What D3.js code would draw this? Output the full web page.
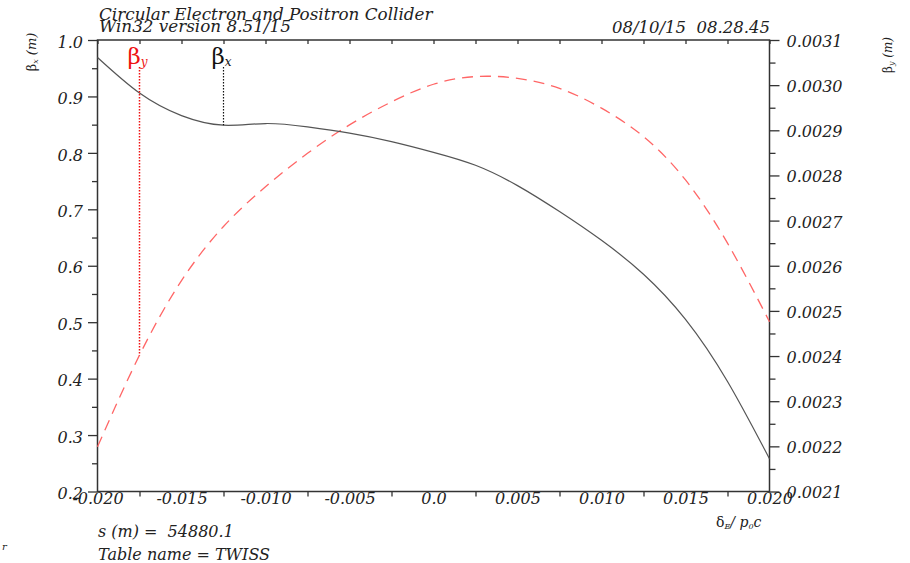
<!DOCTYPE html>
<html lang="en">
<head>
<meta charset="utf-8">
<title>Circular Electron and Positron Collider - Twiss</title>
<script src="https://d3js.org/d3.v7.min.js"></script>
<style>
    body { margin: 0; background: #fff; }
    svg text { font-family: 'DejaVu Serif', 'Liberation Serif', serif; font-style: italic; fill: #222; }
</style>
</head>
<body>
<div id="chart"></div>
<script>
/* global d3 */

// momentum deviation dE/p0c
var deltaE = [-0.020, -0.0175, -0.015, -0.0125, -0.010, -0.0075, -0.005, -0.0025, 0.0,
              0.0025, 0.005, 0.0075, 0.010, 0.0125, 0.015, 0.0175, 0.020];
// beta_x (m), left axis
var betaX = [0.969, 0.906, 0.866, 0.849, 0.852, 0.846, 0.835, 0.820, 0.801,
             0.778, 0.742, 0.696, 0.645, 0.585, 0.505, 0.395, 0.258];
// beta_y (m), right axis
var betaY = [0.002199, 0.002402, 0.002567, 0.002687, 0.002775, 0.002849, 0.002912, 0.002963, 0.003002,
             0.003019, 0.003015, 0.002993, 0.002949, 0.002886, 0.002790, 0.002650, 0.002476];

var xTicks = [-0.020, -0.015, -0.010, -0.005, 0.0, 0.005, 0.010, 0.015, 0.020];
var xTickLabels = ["-0.020", "-0.015", "-0.010", "-0.005", "0.0", "0.005", "0.010", "0.015", "0.020"];
var leftTicks = [0.2, 0.3, 0.4, 0.5, 0.6, 0.7, 0.8, 0.9, 1.0];
var rightTicks = [0.0021, 0.0022, 0.0023, 0.0024, 0.0025, 0.0026, 0.0027, 0.0028, 0.0029, 0.0030, 0.0031];

var width = 910, height = 563;
var plotL = 97.5, plotR = 769.5, plotT = 40, plotB = 491.5;

var svg = d3.select('#chart').append('svg')
    .attr('width', width)
    .attr('height', height);

var x = d3.scaleLinear().domain([-0.020, 0.020]).range([plotL, plotR]);
var yL = d3.scaleLinear().domain([0.2, 1.0]).range([plotB, plotT]);
var yR = d3.scaleLinear().domain([0.0021, 0.0031]).range([plotB, plotT]);

function halfSteps(lo, hi, step) {
    var out = [];
    for (var i = 0; lo + i * step <= hi + 1e-12; i++) out.push(+(lo + i * step).toFixed(6));
    return out;
}

var axisColor = '#333';

// minor ticks first (no labels)
svg.append('g')
    .attr('transform', 'translate(' + plotL + ',0)')
    .call(d3.axisLeft(yL).tickValues(halfSteps(0.25, 0.95, 0.1)).tickSize(5.5).tickFormat(''));
svg.append('g')
    .attr('transform', 'translate(' + plotR + ',0)')
    .call(d3.axisRight(yR).tickValues(halfSteps(0.00215, 0.00305, 0.0001)).tickSize(6).tickFormat(''));
svg.append('g')
    .attr('transform', 'translate(0,' + plotB + ')')
    .call(d3.axisBottom(x).tickValues(halfSteps(-0.0175, 0.0175, 0.005)).tickSize(5).tickFormat(''));

// major ticks with labels
var gL = svg.append('g')
    .attr('transform', 'translate(' + plotL + ',0)')
    .call(d3.axisLeft(yL).tickValues(leftTicks).tickSize(9.5).tickPadding(5).tickFormat(d3.format('.1f')));
gL.selectAll('text').attr('dy', '0.45em');

var gR = svg.append('g')
    .attr('transform', 'translate(' + plotR + ',0)')
    .call(d3.axisRight(yR).tickValues(rightTicks).tickSize(10).tickPadding(7).tickFormat(d3.format('.4f')));
gR.selectAll('text').attr('dy', '0.4em');

var gB = svg.append('g')
    .attr('transform', 'translate(0,' + plotB + ')')
    .call(d3.axisBottom(x).tickValues(xTicks).tickSize(0).tickPadding(4)
        .tickFormat(function(d, i) { return xTickLabels[i]; }));
gB.selectAll('text').attr('dy', '0.55em');

// top axis ticks pointing inward
svg.append('g')
    .attr('transform', 'translate(0,' + plotT + ')')
    .call(d3.axisBottom(x).tickValues(halfSteps(-0.020, 0.020, 0.0025)).tickSize(4).tickFormat(''));

svg.selectAll('.domain').remove();
svg.selectAll('.tick line').attr('stroke', axisColor).attr('stroke-width', 1.3);
svg.selectAll('.tick text').attr('font-size', 16).attr('fill', '#222')
    .style('font-family', "'DejaVu Serif', serif").style('font-style', 'italic');

// frame
svg.append('rect')
    .attr('x', plotL).attr('y', plotT)
    .attr('width', plotR - plotL).attr('height', plotB - plotT)
    .attr('fill', 'none').attr('stroke', axisColor).attr('stroke-width', 1.5);

var rows = deltaE.map(function(d, i) { return {d: d, bx: betaX[i], by: betaY[i]}; });

var lineX = d3.line().curve(d3.curveNatural)
    .x(function(r) { return x(r.d); }).y(function(r) { return yL(r.bx); });
var lineY = d3.line().curve(d3.curveNatural)
    .x(function(r) { return x(r.d); }).y(function(r) { return yR(r.by); });

svg.append('path').datum(rows)
    .attr('d', lineY)
    .attr('fill', 'none').attr('stroke', '#ff6666').attr('stroke-width', 1.3)
    .attr('stroke-dasharray', '11,7');

svg.append('path').datum(rows)
    .attr('d', lineX)
    .attr('fill', 'none').attr('stroke', '#555').attr('stroke-width', 1.2);

// legend markers: dotted drop lines to each curve
var iy = 1, ix = 3;
svg.append('line')
    .attr('x1', x(deltaE[iy])).attr('x2', x(deltaE[iy]))
    .attr('y1', 67).attr('y2', yR(betaY[iy]))
    .attr('stroke', '#ee1111').attr('stroke-width', 1.5).attr('stroke-dasharray', '1.5,1.5');
svg.append('line')
    .attr('x1', x(deltaE[ix])).attr('x2', x(deltaE[ix]))
    .attr('y1', 67).attr('y2', yL(betaX[ix]))
    .attr('stroke', '#111').attr('stroke-width', 1.2).attr('stroke-dasharray', '1.5,1.5');

var ly = svg.append('text')
    .attr('x', x(deltaE[iy]) - 12).attr('y', 64)
    .style('font-style', 'normal').style('fill', '#ee1111');
ly.append('tspan').attr('font-size', 23).text('β');
ly.append('tspan').attr('font-size', 12).attr('dy', 2).style('font-style', 'italic').text('y');

var lx = svg.append('text')
    .attr('x', x(deltaE[ix]) - 12).attr('y', 64)
    .style('font-style', 'normal').style('fill', '#111');
lx.append('tspan').attr('font-size', 23).text('β');
lx.append('tspan').attr('font-size', 12).attr('dy', 2).style('font-style', 'italic').text('x');

// header texts
svg.append('text').attr('x', 99).attr('y', 20).attr('font-size', 16.8)
    .text('Circular Electron and Positron Collider');
svg.append('text').attr('x', 99).attr('y', 32).attr('font-size', 16.8)
    .text('Win32 version 8.51/15');
svg.append('text').attr('x', 770).attr('y', 33).attr('font-size', 16.5)
    .attr('text-anchor', 'end').attr('xml:space', 'preserve')
    .text('08/10/15  08.28.45');

// axis titles
var tl = svg.append('text')
    .attr('transform', 'translate(36,52) rotate(-90)')
    .attr('text-anchor', 'middle').attr('font-size', 13).style('font-style', 'normal');
tl.append('tspan').text('β');
tl.append('tspan').attr('font-size', 8).attr('dy', 2).style('font-style', 'italic').text('x');
tl.append('tspan').attr('dy', -2).style('font-style', 'italic').text(' (m)');

var tr = svg.append('text')
    .attr('transform', 'translate(892,55) rotate(-90)')
    .attr('text-anchor', 'middle').attr('font-size', 12).style('font-style', 'normal');
tr.append('tspan').text('β');
tr.append('tspan').attr('font-size', 8).attr('dy', 2).style('font-style', 'italic').text('y');
tr.append('tspan').attr('dy', -2).style('font-style', 'italic').text(' (m)');

var tx = svg.append('text')
    .attr('x', 716).attr('y', 527).attr('font-size', 14).style('font-style', 'normal');
tx.append('tspan').text('δ');
tx.append('tspan').attr('font-size', 8).attr('dy', 2).style('font-style', 'italic').text('E');
tx.append('tspan').attr('dy', -2).style('font-style', 'italic').text('/ p');
tx.append('tspan').attr('font-size', 8).attr('dy', 2).style('font-style', 'italic').text('0');
tx.append('tspan').attr('dy', -2).style('font-style', 'italic').text('c');

// footer
svg.append('text').attr('x', 98).attr('y', 537).attr('font-size', 16)
    .attr('xml:space', 'preserve').text('s (m) =  54880.1');
svg.append('text').attr('x', 98).attr('y', 560).attr('font-size', 16)
    .text('Table name = TWISS');
svg.append('text').attr('x', 2).attr('y', 550).attr('font-size', 10).attr('fill', '#555')
    .text('r');
</script>
</body>
</html>
